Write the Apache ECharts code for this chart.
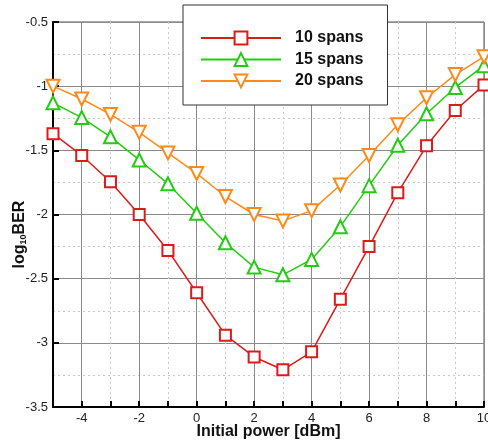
<!DOCTYPE html>
<html><head><meta charset="utf-8">
<script src="https://cdn.jsdelivr.net/npm/echarts@6/dist/echarts.min.js"></script>
<style>html,body{margin:0;padding:0;background:#fff}#c{width:488px;height:443px}</style>
</head><body><div id="c"></div>
<script>
const xValues = [-5,-4,-3,-2,-1,0,1,2,3,4,5,6,7,8,9,10];
const spans10 = [-1.37,-1.54,-1.745,-2.0,-2.28,-2.61,-2.94,-3.11,-3.21,-3.07,-2.66,-2.25,-1.83,-1.465,-1.19,-0.99];
const spans15 = [-1.13,-1.245,-1.395,-1.575,-1.76,-1.99,-2.22,-2.41,-2.47,-2.35,-2.095,-1.775,-1.46,-1.215,-1.01,-0.84];
const spans20 = [-1.0,-1.1,-1.22,-1.36,-1.52,-1.68,-1.86,-2.0,-2.05,-1.97,-1.77,-1.54,-1.30,-1.09,-0.91,-0.77];
const seriesNames = ['10 spans','15 spans','20 spans'];

const pair = arr => xValues.map((x,i)=>[x,arr[i]]);
const font = 'Liberation Sans, Arial, sans-serif';
const chart = echarts.init(document.getElementById('c'));
const mk = (name, data, color, symbol, rot, size) => ({
  name, type:'line', data: pair(data), xAxisIndex:0, yAxisIndex:0,
  symbol, symbolSize:size, symbolRotate:rot, showAllSymbol:true,
  lineStyle:{color, width:1.5}, itemStyle:{color, borderColor:color, borderWidth:1.8},
  color, z:5
});
chart.setOption({
  animation:false,
  grid:{left:53,right:4,top:22,bottom:36,show:true,borderColor:'#555',borderWidth:1,backgroundColor:'transparent',
        containLabel:false, outerBoundsMode:'none'},
  legend:{
    left:183, top:5, orient:'vertical', itemWidth:80, itemHeight:16, itemGap:5.5,
    padding:[25,24,16,17], backgroundColor:'#fff', borderColor:'#333', borderWidth:1,
    textStyle:{fontFamily:font, fontWeight:'bold', fontSize:16, color:'#111', padding:[0,0,0,9]},
    data: seriesNames
  },
  xAxis:[{
    type:'value', min:-5, max:10, interval:1,
    name:'Initial power [dBm]', nameLocation:'middle', nameGap:17, nameMoveOverlap:false,
    nameTextStyle:{fontFamily:font, fontWeight:'bold', fontSize:16, color:'#111', verticalAlign:'top'},
    axisLine:{onZero:false, lineStyle:{color:'#000', width:2}},
    axisTick:{show:false},
    axisLabel:{fontFamily:font, fontSize:13, color:'#222', margin:5,
      formatter: v => (v % 2 === 0 ? String(v) : '')},
    splitLine:{show:true, lineStyle:{color:'#c8c8c8', type:[2,3], width:1}}
  },{
    type:'value', min:-5, max:10, interval:1, position:'bottom',
    axisLine:{show:false}, axisLabel:{show:false},
    axisTick:{show:true, inside:true, length:6, lineStyle:{color:['rgba(0,0,0,0)','#000'], width:2}},
    splitLine:{show:true, lineStyle:{color:['rgba(0,0,0,0)','#8a8a8a'], width:1}}
  }],
  yAxis:{
    type:'value', min:-3.5, max:-0.5, interval:0.5,
    name:'{b|log}{s|10}{b|BER}', nameLocation:'middle', nameGap:25, nameRotate:90, nameMoveOverlap:false,
    nameTextStyle:{padding:[0,40,0,0], rich:{
      b:{fontFamily:font, fontWeight:'bold', fontSize:16, color:'#111'},
      s:{fontFamily:font, fontWeight:'bold', fontSize:9, color:'#111', padding:[8,0,0,0]}
    }},
    axisLine:{onZero:false, lineStyle:{color:'#000', width:2}},
    axisTick:{show:true, inside:true, length:6, lineStyle:{color:'#000', width:2}},
    axisLabel:{fontFamily:font, fontSize:13, color:'#222', margin:5},
    splitLine:{show:true, lineStyle:{color:'#8a8a8a', width:1}},
    minorTick:{show:false, splitNumber:2},
    minorSplitLine:{show:true, lineStyle:{color:'#c8c8c8', type:[2,3], width:1}}
  },
  series:[
    mk(seriesNames[0], spans10, '#dd1a1a', 'emptyRect', 0, 11),
    mk(seriesNames[1], spans15, '#22cc11', 'emptyTriangle', 0, 13),
    mk(seriesNames[2], spans20, '#ff8a1a', 'emptyTriangle', 180, 13)
  ]
});
</script></body></html>
